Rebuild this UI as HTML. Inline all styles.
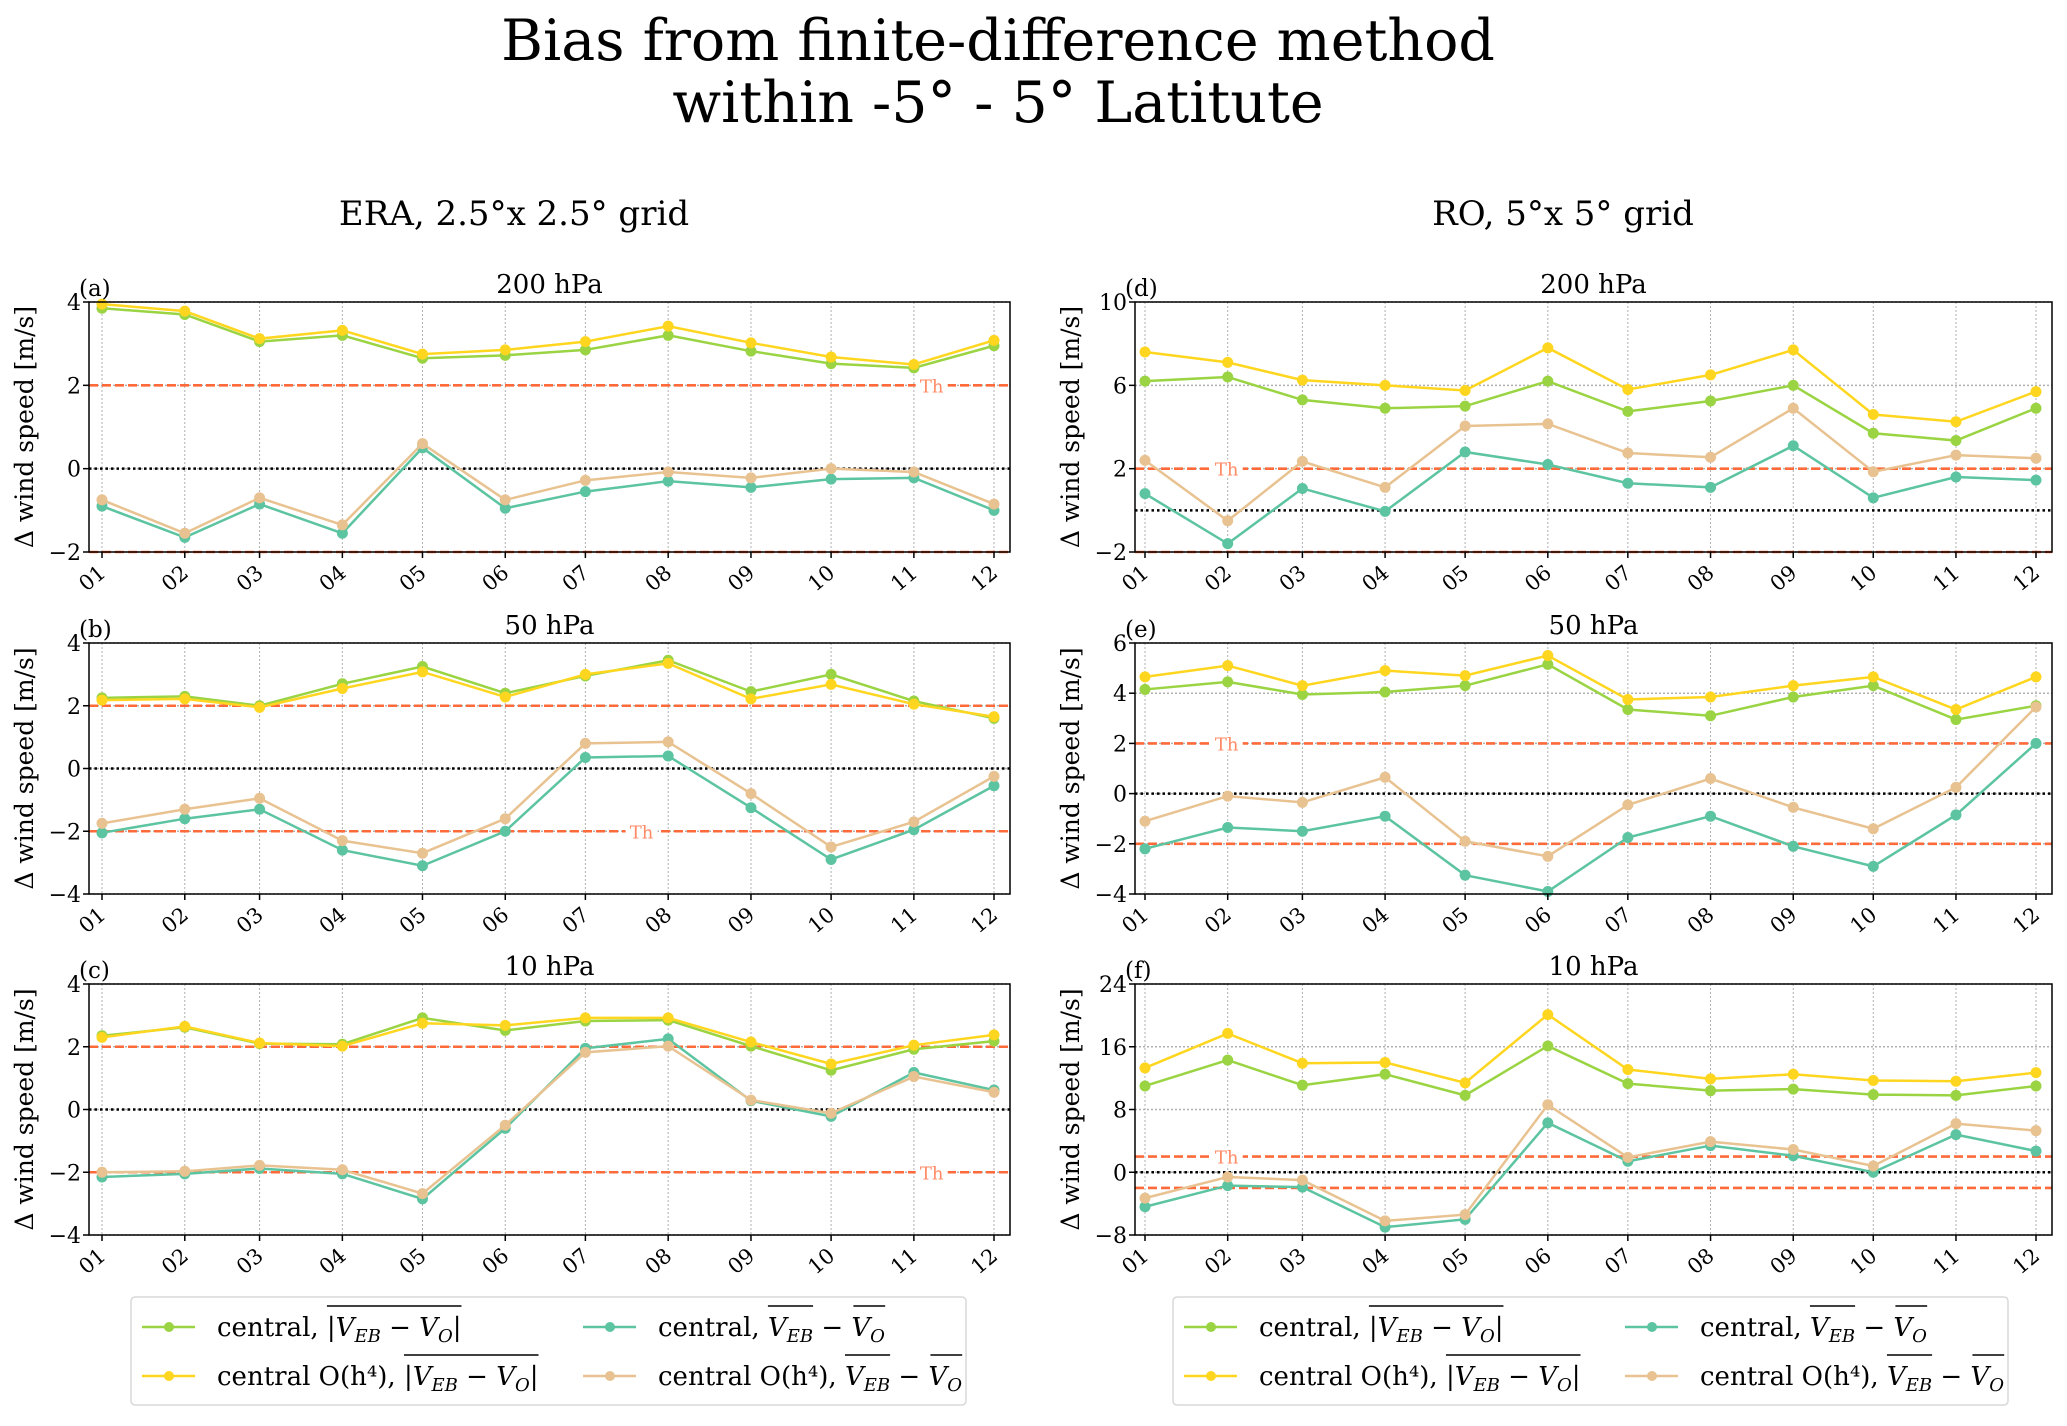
<!DOCTYPE html>
<html><head><meta charset="utf-8"><style>
html,body{margin:0;padding:0;background:#fff}
svg{display:block;font-family:"DejaVu Serif","Liberation Serif",serif}
</style></head><body>
<svg id="fig" width="2067" height="1426" viewBox="0 0 2067 1426" xmlns="http://www.w3.org/2000/svg">
<text x="998" y="60" font-size="57" text-anchor="middle">Bias from finite-difference method</text>
<text x="998" y="122" font-size="57" text-anchor="middle">within -5° - 5° Latitute</text>
<text x="514" y="225" font-size="34" text-anchor="middle">ERA, 2.5°x 2.5° grid</text>
<text x="1563" y="225" font-size="34" text-anchor="middle">RO, 5°x 5° grid</text>
<g id="panels"></g>
<g id="legends"></g>
</svg>
<script>
const months = ["01","02","03","04","05","06","07","08","09","10","11","12"];
const monthDays = [0,31,59,90,120,151,181,212,243,273,304,334];
const seriesNames = ["central-abs","central-o4-abs","central-diff","central-o4-diff"];
// panel a (ERA 200 hPa)
const aGreen = [3.85,3.7,3.05,3.2,2.65,2.72,2.85,3.2,2.82,2.52,2.42,2.95];
const aYellow = [3.95,3.78,3.12,3.32,2.75,2.85,3.05,3.42,3.02,2.68,2.5,3.08];
const aTeal = [-0.9,-1.65,-0.85,-1.55,0.5,-0.95,-0.55,-0.3,-0.45,-0.25,-0.22,-1.0];
const aTan = [-0.75,-1.55,-0.7,-1.35,0.6,-0.75,-0.28,-0.08,-0.22,0.0,-0.08,-0.85];
const aTicks = [-2,0,2,4];
// panel b (ERA 50 hPa)
const bGreen = [2.25,2.3,2.0,2.7,3.25,2.4,2.95,3.45,2.45,3.0,2.15,1.6];
const bYellow = [2.18,2.22,1.95,2.55,3.08,2.28,3.0,3.35,2.22,2.68,2.05,1.65];
const bTeal = [-2.05,-1.6,-1.3,-2.6,-3.1,-2.0,0.35,0.4,-1.25,-2.9,-1.95,-0.55];
const bTan = [-1.75,-1.3,-0.95,-2.3,-2.7,-1.6,0.8,0.85,-0.8,-2.5,-1.7,-0.25];
const bTicks = [-4,-2,0,2,4];
// panel c (ERA 10 hPa)
const cGreen = [2.35,2.62,2.1,2.08,2.92,2.52,2.82,2.85,2.02,1.25,1.92,2.18];
const cYellow = [2.3,2.65,2.12,2.02,2.75,2.68,2.92,2.92,2.15,1.45,2.05,2.38];
const cTeal = [-2.15,-2.05,-1.88,-2.05,-2.85,-0.6,1.95,2.25,0.28,-0.22,1.18,0.62];
const cTan = [-2.0,-1.97,-1.78,-1.92,-2.68,-0.5,1.82,2.02,0.3,-0.12,1.05,0.55];
const cTicks = [-4,-2,0,2,4];
// panel d (RO 200 hPa)
const dGreen = [6.2,6.4,5.3,4.9,5.0,6.2,4.75,5.25,6.0,3.7,3.35,4.9];
const dYellow = [7.6,7.1,6.25,6.0,5.75,7.8,5.8,6.5,7.7,4.6,4.25,5.7];
const dTeal = [0.8,-1.6,1.05,-0.05,2.8,2.2,1.3,1.1,3.1,0.6,1.6,1.45];
const dTan = [2.4,-0.5,2.35,1.1,4.05,4.15,2.75,2.55,4.9,1.85,2.65,2.5];
const dTicks = [-2,2,6,10];
// panel e (RO 50 hPa)
const eGreen = [4.15,4.45,3.95,4.05,4.3,5.15,3.35,3.1,3.85,4.3,2.95,3.5];
const eYellow = [4.65,5.1,4.3,4.9,4.7,5.5,3.75,3.85,4.3,4.65,3.35,4.65];
const eTeal = [-2.2,-1.35,-1.5,-0.9,-3.25,-3.9,-1.75,-0.9,-2.1,-2.9,-0.85,2.0];
const eTan = [-1.1,-0.1,-0.35,0.65,-1.9,-2.5,-0.45,0.6,-0.55,-1.4,0.25,3.45];
const eTicks = [-4,-2,0,2,4,6];
// panel f (RO 10 hPa)
const fGreen = [11.0,14.3,11.1,12.5,9.8,16.1,11.3,10.4,10.6,9.9,9.8,11.0];
const fYellow = [13.3,17.7,13.9,14.0,11.4,20.1,13.1,11.9,12.5,11.7,11.6,12.7];
const fTeal = [-4.4,-1.7,-1.9,-7.0,-6.0,6.3,1.4,3.4,2.1,0.0,4.8,2.7];
const fTan = [-3.3,-0.6,-1.0,-6.2,-5.4,8.6,1.9,3.9,2.9,0.8,6.2,5.3];
const fTicks = [-8,0,8,16,24];
const thresholds = [2,-2];

const NS = "http://www.w3.org/2000/svg";
const COLORS = ["#9ad443","#ffd61f","#5cc4a0","#e8c290"];
function mk(tag, attrs, parent){
  const e = document.createElementNS(NS, tag);
  for (const k in attrs) e.setAttribute(k, attrs[k]);
  if (parent) parent.appendChild(e);
  return e;
}
const panelsG = document.getElementById("panels");
const rows = [[302,552],[643,894],[984,1235]];
const colsGeom = [{l:89,r:1010,x0:102,x1:994},{l:1135,r:2052,x0:1145,x1:2036}];
const panels = [
 {id:"a",lvl:"200 hPa",col:0,row:0,s:[aGreen,aYellow,aTeal,aTan],t:aTicks,th:"right"},
 {id:"b",lvl:"50 hPa",col:0,row:1,s:[bGreen,bYellow,bTeal,bTan],t:bTicks,th:"mid"},
 {id:"c",lvl:"10 hPa",col:0,row:2,s:[cGreen,cYellow,cTeal,cTan],t:cTicks,th:"right2"},
 {id:"d",lvl:"200 hPa",col:1,row:0,s:[dGreen,dYellow,dTeal,dTan],t:dTicks,th:"left"},
 {id:"e",lvl:"50 hPa",col:1,row:1,s:[eGreen,eYellow,eTeal,eTan],t:eTicks,th:"left"},
 {id:"f",lvl:"10 hPa",col:1,row:2,s:[fGreen,fYellow,fTeal,fTan],t:fTicks,th:"left"}
];
panels.forEach(p=>{
  const g = mk("g",{},panelsG);
  
  
  const C = colsGeom[p.col], top=rows[p.row][0], bot=rows[p.row][1];
  const ymin=p.t[0], ymax=p.t[p.t.length-1];
  const yS = v => bot - (v-ymin)/(ymax-ymin)*(bot-top);
  const xS = d => C.x0 + d/monthDays[11]*(C.x1-C.x0);
  monthDays.forEach(d=>{
    const l = mk("line",{x1:xS(d),x2:xS(d),y1:top,y2:bot,stroke:"#b0b0b0","stroke-width":1,"stroke-dasharray":"2,2"},g);
    
    
  });
  p.t.forEach(v=>{
    const l = mk("line",{x1:C.l,x2:C.r,y1:yS(v),y2:yS(v),stroke:"#b0b0b0","stroke-width":1.5,"stroke-dasharray":"2,2"},g);
    
    
  });
  const z = mk("line",{x1:C.l,x2:C.r,y1:yS(0),y2:yS(0),stroke:"#000","stroke-width":2.5,"stroke-dasharray":"2.5,3"},g);
  
  
  thresholds.forEach(v=>{
    const l = mk("line",{x1:C.l,x2:C.r,y1:yS(v),y2:yS(v),stroke:"#ff6a3a","stroke-width":2.6,"stroke-dasharray":"9,4"},g);
    
    
  });
  let thx, thv=2;
  if(p.th==="right"){thx=C.l+0.915*(C.r-C.l);}
  else if(p.th==="right2"){thx=C.l+0.915*(C.r-C.l);thv=-2;}
  else if(p.th==="mid"){thx=C.l+0.6*(C.r-C.l);thv=-2;}
  else {thx=C.l+0.1*(C.r-C.l);}
  const bg = mk("rect",{x:thx-16,y:yS(thv)-9,width:32,height:18,fill:"#fff"},g);
  
  
  const tt = mk("text",{x:thx,y:yS(thv)+7,"font-size":18,fill:"#ff8a65","text-anchor":"middle"},g);
  tt.textContent="Th";
  
  
  p.s.forEach((arr,si)=>{
    const pts = arr.map((v,i)=>xS(monthDays[i])+","+yS(v)).join(" ");
    const pl = mk("polyline",{points:pts,fill:"none",stroke:COLORS[si],"stroke-width":2.5},g);
    
    
    arr.forEach((v,i)=>{
      const c = mk("circle",{cx:xS(monthDays[i]),cy:yS(v),r:5.5,fill:COLORS[si]},g);
      
      
    });
  });
  const fr = mk("rect",{x:C.l,y:top,width:C.r-C.l,height:bot-top,fill:"none",stroke:"#000","stroke-width":1.5},g);
  
  
  p.t.forEach(v=>{
    const tk = mk("line",{x1:C.l-6,x2:C.l,y1:yS(v),y2:yS(v),stroke:"#000","stroke-width":1.5},g);
    
    
    const tl = mk("text",{x:C.l-8,y:yS(v)+8,"font-size":22,"text-anchor":"end"},g);
    tl.textContent = v<0 ? "\u2212"+Math.abs(v) : String(v);
    
    
  });
  monthDays.forEach((d,i)=>{
    const x=xS(d);
    const tk = mk("line",{x1:x,x2:x,y1:bot,y2:bot+6,stroke:"#000","stroke-width":1.5},g);
    
    
    const tl = mk("text",{x:x+5,y:bot+23,"font-size":21,"text-anchor":"end",transform:"rotate(-40 "+(x+5)+" "+(bot+23)+")"},g);
    tl.textContent = months[i];
    
    
  });
  const pt = mk("text",{x:(C.l+C.r)/2,y:top-9,"font-size":26,"text-anchor":"middle"},g);
  pt.textContent = p.lvl;
  
  
  const pl2 = mk("text",{x:C.l-10,y:top-6,"font-size":23},g);
  pl2.textContent = "("+p.id+")";
  
  
  const yl = mk("text",{x:0,y:0,"font-size":25,"text-anchor":"middle",transform:"translate("+(C.l-56)+","+((top+bot)/2)+") rotate(-90)"},g);
  yl.textContent = "\u0394 wind speed [m/s]";
  
  
});
const legG = document.getElementById("legends");
const legendLabels = [
 ['central, ','|V','EB',' \u2212 V','O','|',true],
 ['central O(h\u2074), ','|V','EB',' \u2212 V','O','|',true],
 ['central, ','V','EB',' \u2212 V','O','',false],
 ['central O(h\u2074), ','V','EB',' \u2212 V','O','',false]
];
[131,1173].forEach((lx,li)=>{
  const g = mk("g",{},legG);
  
  
  const box = mk("rect",{x:lx,y:1297,width:835,height:108,rx:4,fill:"#fff",stroke:"#d8d8d8","stroke-width":1.5},g);
  
  
  [0,1,2,3].forEach(si=>{
    const col = si<2?0:1, row = si%2;
    const hx = lx + (col===0?11:452), hy = row===0?1327:1376;
    const ln = mk("line",{x1:hx,x2:hx+53,y1:hy,y2:hy,stroke:COLORS[si],"stroke-width":2.5},g);
    
    
    const dt = mk("circle",{cx:hx+27,cy:hy,r:5,fill:COLORS[si]},g);
    
    
    const L = legendLabels[si];
    const tx = mk("text",{x:hx+75,y:hy+9,"font-size":26},g);
    
    
    const t1 = mk("tspan",{},tx); t1.textContent=L[0];
    const t2 = mk("tspan",{"font-style":"italic"},tx); t2.textContent=L[1];
    const t3 = mk("tspan",{"font-style":"italic","font-size":18,dy:6},tx); t3.textContent=L[2];
    const t4 = mk("tspan",{"font-style":"italic",dy:-6},tx); t4.textContent=L[3];
    const t5 = mk("tspan",{"font-style":"italic","font-size":18,dy:6},tx); t5.textContent=L[4];
    const t6 = mk("tspan",{dy:-6},tx); t6.textContent=L[5];
    const bb = tx.getBBox();
    const w0 = t1.getComputedTextLength();
    if(L[6]){
      const ol = mk("line",{x1:hx+75+w0,x2:bb.x+bb.width,y1:hy-21,y2:hy-21,stroke:"#000","stroke-width":1.5},g);
      
      
    } else {
      const wA = t2.getComputedTextLength()+t3.getComputedTextLength();
      const o1 = mk("line",{x1:hx+75+w0,x2:hx+75+w0+wA,y1:hy-21,y2:hy-21,stroke:"#000","stroke-width":1.5},g);
      
      
      const wB = t5.getComputedTextLength()+ 17;
      const o2 = mk("line",{x1:bb.x+bb.width-wB,x2:bb.x+bb.width,y1:hy-21,y2:hy-21,stroke:"#000","stroke-width":1.5},g);
      
      
    }
  });
});
</script>
</body></html>
